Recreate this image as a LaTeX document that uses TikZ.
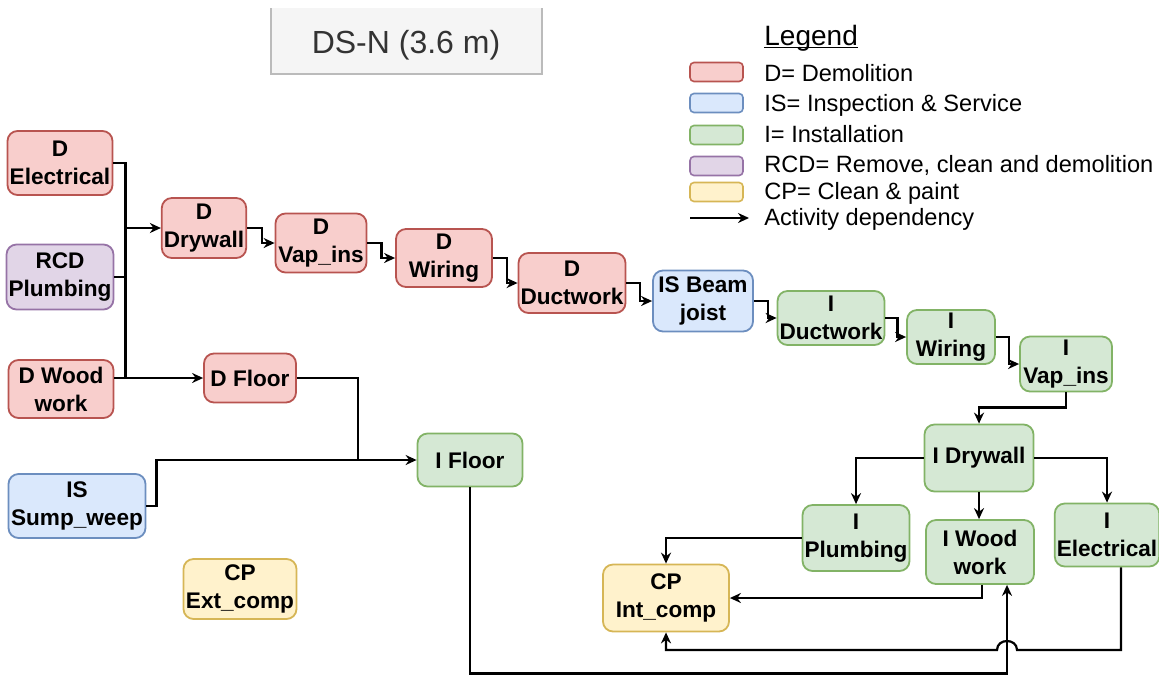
\documentclass[tikz,border=0pt]{standalone}
\usepackage{fontspec}
\setmainfont{Liberation Sans}
\usetikzlibrary{arrows.meta}
\definecolor{dfill}{HTML}{F8CECC}\definecolor{dline}{HTML}{B85450}
\definecolor{isfill}{HTML}{DAE8FC}\definecolor{isline}{HTML}{6C8EBF}
\definecolor{ifill}{HTML}{D5E8D4}\definecolor{iline}{HTML}{82B366}
\definecolor{rfill}{HTML}{E1D5E7}\definecolor{rline}{HTML}{9673A6}
\definecolor{cfill}{HTML}{FFF2CC}\definecolor{cline}{HTML}{D6B656}
\definecolor{tfill}{HTML}{F5F5F5}\definecolor{tline}{HTML}{BBBBBB}

\begin{document}
\begin{tikzpicture}[x=0.5pt,y=-0.5pt,
  act/.style={rounded corners=5pt, line width=0.9pt, align=center, inner sep=1pt,
    font=\bfseries\fontsize{11.3}{14}\selectfont},
  dact/.style={act, fill=dfill, draw=dline},
  isact/.style={act, fill=isfill, draw=isline},
  iact/.style={act, fill=ifill, draw=iline},
  ract/.style={act, fill=rfill, draw=rline},
  cact/.style={act, fill=cfill, draw=cline},
  wh/.style 2 args={minimum width=#1pt, minimum height=#2pt},
  swatch/.style={rounded corners=2pt, line width=0.8pt, minimum width=26.5pt, minimum height=9.5pt, inner sep=0pt},
  legtxt/.style={anchor=base west, inner sep=0pt, font=\fontsize{11.8}{14}\selectfont},
  link/.style={line width=1.1pt},
  dep/.style={line width=1.1pt, -{Stealth[length=5.5pt,width=5pt]}}]
\useasboundingbox (0,0) rectangle (1159,675);

% title box
\fill[tfill] (271,8) rectangle (542,74);
\draw[tline, line width=0.8pt] (271,8) |- (542,74) -- (542,8);
\node[anchor=base, inner sep=0pt, text=black!80, font=\fontsize{16}{18}\selectfont] (title) at (406,53) {DS-N (3.6 m)};

% legend
\node[anchor=base west, inner sep=0pt, font=\fontsize{14}{16}\selectfont] (legtitle) at (764,45) {Legend};
\draw[line width=0.6pt] ([yshift=-1.4pt]legtitle.base west) -- ([yshift=-1.4pt]legtitle.base east);
\node[swatch, fill=dfill, draw=dline] (swD) at (716.5,72) {};
\node[swatch, fill=isfill, draw=isline] (swIS) at (716.5,103) {};
\node[swatch, fill=ifill, draw=iline] (swI) at (716.5,135) {};
\node[swatch, fill=rfill, draw=rline] (swR) at (716.5,166) {};
\node[swatch, fill=cfill, draw=cline] (swC) at (716.5,192) {};
\coordinate (legA) at (690,218);
\coordinate (legB) at (749,218);
\draw[dep] (legA) -- (legB);
\node[legtxt] (lgD) at (764,81) {D= Demolition};
\node[legtxt] (lgIS) at (764,111) {IS= Inspection \& Service};
\node[legtxt] (lgI) at (764,142) {I= Installation};
\node[legtxt] (lgR) at (764,172) {RCD= Remove, clean and demolition};
\node[legtxt] (lgC) at (764,199) {CP= Clean \& paint};
\node[legtxt] (lgA) at (764,225) {Activity dependency};

% activities
\node[dact, wh={52.5}{32}] (dElec) at (60,163) {D\\Electrical};
\node[ract, wh={52}{32.5}] (rcdPlumb) at (60,277) {RCD\\Plumbing};
\node[dact, wh={52.5}{29}] (dWood) at (61,389) {D Wood\\work};
\node[isact, wh={68.5}{32}] (isSump) at (77,506) {IS\\Sump\_weep};
\node[cact, wh={56.5}{30}] (cpExt) at (240,589) {CP\\Ext\_comp};
\node[dact, wh={46}{24.5}] (dFloor) at (250,378) {D Floor};
\node[iact, wh={52.5}{26.5}] (iFloor) at (470,460) {I Floor};
\node[dact, wh={42}{30}] (dDry) at (204,228) {D\\Drywall};
\node[dact, wh={45.5}{29.5}] (dVap) at (321,243) {D\\Vap\_ins};
\node[dact, wh={48}{29}] (dWir) at (444,258) {D\\Wiring};
\node[dact, wh={52.5}{30}] (dDuct) at (572,283) {D\\Ductwork};
\node[isact, wh={50}{30.5}] (isBeam) at (703,301) {IS Beam\\joist};
\node[iact, wh={51.5}{27}] (iDuct) at (831,318) {I\\Ductwork};
\node[iact, wh={44}{27}] (iWir) at (951,337) {I\\Wiring};
\node[iact, wh={46}{27.5}] (iVap) at (1066,364) {I\\Vap\_ins};
\node[iact, wh={54.5}{33.5}] (iDry) at (979,458) {I Drywall};
\node[iact, wh={52}{33}] (iPlumb) at (856,538) {I\\Plumbing};
\node[iact, wh={54}{32}] (iWood) at (980,552) {I Wood\\work};
\node[iact, wh={50}{31.5}] (iElec) at (1107,535) {I\\Electrical};
\node[cact, wh={63}{33.5}] (cpInt) at (666,598) {CP\\Int\_comp};

% left group
\draw[link] (dElec.east) -- ++(12,0) coordinate (bus) -- (bus |- dFloor.west);
\draw[link] (rcdPlumb.east) -- (rcdPlumb.east -| bus);
\draw[dep] (bus |- dDry.west) -- (dDry.west);
\draw[dep] (dWood.east |- dFloor.west) -- (dFloor.west);
\draw[link] (dFloor.east) -- ++(61,0) coordinate (jf) -- (jf |- iFloor.west);
\draw[dep] (isSump.east) -- ++(10,0) |- (iFloor.west);

% chain
\draw[dep] (dDry.east) -- ++(15,0) |- (dVap.west);
\draw[dep] (dVap.east) -- ++(14,0) |- (dWir.west);
\draw[dep] (dWir.east) -- ++(14,0) |- (dDuct.west);
\draw[dep] (dDuct.east) -- ++(14,0) |- (isBeam.west);
\draw[dep] (isBeam.east) -- ++(14,0) |- (iDuct.west);
\draw[dep] (iDuct.east) -- ++(12,0) |- (iWir.west);
\draw[dep] (iWir.east) -- ++(13,0) |- (iVap.west);
\draw[dep] (iVap.south) -- ++(0,15) -| (iDry.north);
\draw[dep] (iDry.west) -| (iPlumb.north);
\draw[dep] (iDry.south) -- (iDry.south |- iWood.north);
\draw[dep] (iDry.east) -| (iElec.north);
\draw[dep] (iPlumb.west) -| (cpInt.north);
\draw[dep] ([xshift=1pt]iWood.south) |- (cpInt.east);
\draw[dep] (iFloor.south) -- ++(0,186) -| ([xshift=13.5pt]iWood.south);
\coordinate (hopR) at (1017,650);
\coordinate (hopL) at (997,650);
\draw[dep] ([xshift=7pt]iElec.south) |- (hopR) .. controls (1017,638) and (997,638) .. (hopL) -| (cpInt.south);

\end{tikzpicture}
\end{document}
